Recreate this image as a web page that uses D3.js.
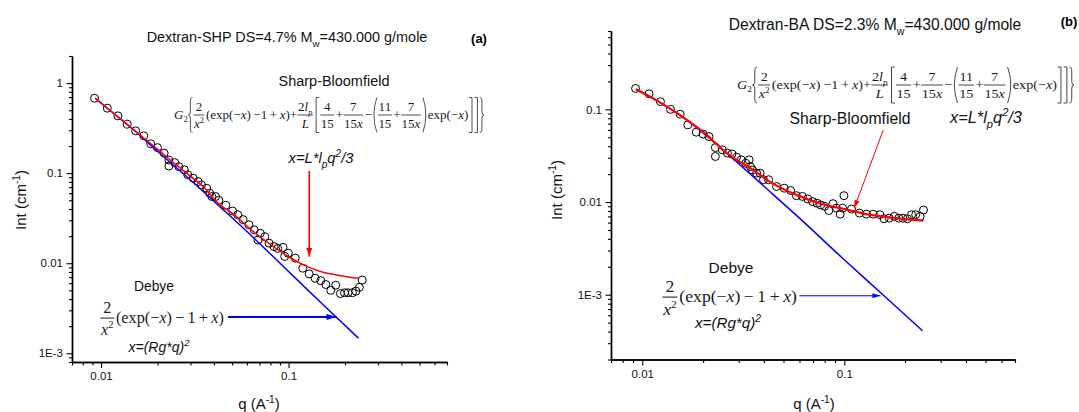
<!DOCTYPE html>
<html><head><meta charset="utf-8">
<script src="https://cdn.jsdelivr.net/npm/d3@7"></script>
<style>
html,body{margin:0;padding:0;background:#fff;}
svg{display:block;}
</style></head><body>
<svg id="c" width="1079" height="412"></svg>
<script>
// ---------------- data ----------------
// Panel (a): Dextran-SHP
const qA = [0.00923,0.0108,0.0123,0.0138,0.0153,0.0169,0.0184,0.0200,0.0217,0.0230,0.0230,0.0247,0.0260,0.0278,0.0290,0.0310,0.0329,0.0343,0.0366,0.0380,0.0390,0.0408,0.0425,0.0463,0.0503,0.0536,0.0572,0.0615,0.0656,0.0687,0.0707,0.0747,0.0787,0.0837,0.0875,0.0934,0.0954,0.0995,0.1086,0.1191,0.1288,0.1386,0.1485,0.158,0.168,0.1786,0.189,0.1989,0.2077,0.219,0.2286,0.2386,0.247];
const intA = [0.68,0.527,0.433,0.35,0.295,0.26,0.212,0.192,0.167,0.14,0.12,0.131,0.118,0.109,0.096,0.088,0.0806,0.074,0.068,0.06,0.055,0.055,0.05,0.044,0.038,0.0345,0.0305,0.0267,0.0235,0.0181,0.0215,0.0197,0.0167,0.0153,0.0146,0.015,0.0119,0.0129,0.0114,0.0088,0.0076,0.0068,0.0064,0.0058,0.005,0.0057,0.0046,0.0047,0.0047,0.0047,0.0049,0.0054,0.0065];
const sbQA = [0.0093,0.012,0.015,0.02,0.025,0.03,0.035,0.043,0.05,0.065,0.08,0.1,0.12,0.148,0.18,0.236];
const sbIA = [0.68,0.44,0.30,0.185,0.125,0.092,0.071,0.0445,0.036,0.0224,0.0162,0.0118,0.0096,0.0081,0.0074,0.0068];
const debQA = [0.0093,0.012,0.015,0.02,0.03,0.043,0.06,0.1,0.15,0.236];
const debIA = [0.68,0.44,0.30,0.175,0.084,0.0425,0.0225,0.0081,0.0036,0.00147];

// Panel (b): Dextran-BA
const qB = [0.00926,0.0108,0.0123,0.0138,0.0154,0.0168,0.0185,0.0200,0.0214,0.0230,0.0230,0.0249,0.0264,0.0278,0.0293,0.0309,0.0325,0.0338,0.0343,0.0351,0.0368,0.0383,0.0398,0.0422,0.0462,0.0504,0.0542,0.0579,0.0620,0.0659,0.0697,0.0733,0.0764,0.0799,0.0838,0.0879,0.0914,0.0954,0.0981,0.0996,0.1085,0.1188,0.1287,0.1391,0.150,0.1574,0.1668,0.1768,0.1862,0.1951,0.2054,0.2153,0.2257,0.2373,0.2467];
const intB = [0.168,0.147,0.121,0.100,0.0886,0.068,0.0567,0.054,0.0508,0.0387,0.031,0.0366,0.0337,0.033,0.0305,0.0285,0.0262,0.0285,0.0241,0.0222,0.0205,0.0205,0.0174,0.0174,0.0147,0.0141,0.0133,0.0117,0.0115,0.0108,0.0101,0.0097,0.0093,0.009,0.0081,0.0096,0.0086,0.0074,0.0086,0.0117,0.0084,0.0076,0.0074,0.0074,0.0073,0.0066,0.0067,0.007,0.0067,0.0067,0.0066,0.0073,0.0073,0.007,0.0082];
const sbQB = [0.0093,0.012,0.0153,0.02,0.027,0.035,0.0427,0.055,0.0753,0.1,0.133,0.18,0.247];
const sbIB = [0.165,0.122,0.087,0.057,0.032,0.0225,0.0166,0.0125,0.0097,0.0084,0.0073,0.0067,0.0063];
const debQB = [0.0093,0.0153,0.0241,0.03,0.04,0.06,0.1,0.15,0.244];
const debIB = [0.165,0.087,0.0396,0.0259,0.0148,0.0067,0.00238,0.00107,0.000409];

// tick labels
const xTickVals = [0.01, 0.1];
const xTickLabels = ["0.01", "0.1"];
const yTickValsA = [0.001, 0.01, 0.1, 1];
const yTickLabelsA = ["1E-3", "0.01", "0.1", "1"];
const yTickValsB = [0.001, 0.01, 0.1];
const yTickLabelsB = ["1E-3", "0.01", "0.1"];

// texts
const titleA = ["Dextran-SHP DS=4.7% M", "w", "=430.000 g/mole"];
const titleB = ["Dextran-BA DS=2.3% M", "w", "=430.000 g/mole"];

// ---------------- drawing ----------------
const SANS = '"Liberation Sans", Arial, Helvetica, sans-serif';
const SERIF = '"Liberation Serif", "Times New Roman", Times, serif';
const svg = d3.select('#c');

function minorTicks(dom) {
  const out = [];
  const lo = Math.floor(Math.log10(dom[0])), hi = Math.ceil(Math.log10(dom[1]));
  for (let e = lo; e <= hi; e++) for (let m = 2; m <= 9; m++) {
    const v = +(m * Math.pow(10, e)).toPrecision(4);
    if (v >= dom[0] * 0.999 && v <= dom[1] * 1.001) out.push(v);
  }
  return out;
}

function drawAxes(g, x, y, yVals, yLabels) {
  const y0 = y.range()[0], x0 = x.range()[0];
  const style = sel => {
    sel.selectAll('.domain').attr('stroke', '#000').attr('stroke-width', 1.4);
    sel.selectAll('.tick line').attr('stroke', '#000').attr('stroke-width', 1.1);
    sel.selectAll('text').attr('font-family', SANS).attr('font-size', 11.5).attr('fill', '#111');
  };
  g.append('g').attr('transform', `translate(0,${y0})`)
    .call(d3.axisBottom(x).tickValues(minorTicks(x.domain())).tickSize(3.5).tickSizeOuter(0).tickFormat(''))
    .call(style);
  g.append('g').attr('transform', `translate(0,${y0})`)
    .call(d3.axisBottom(x).tickValues(xTickVals).tickSize(6).tickPadding(4).tickSizeOuter(0)
      .tickFormat((d, i) => xTickLabels[i]))
    .call(style);
  g.append('g').attr('transform', `translate(${x0},0)`)
    .call(d3.axisLeft(y).tickValues(minorTicks(y.domain())).tickSize(3).tickSizeOuter(0).tickFormat(''))
    .call(style);
  g.append('g').attr('transform', `translate(${x0},0)`)
    .call(d3.axisLeft(y).tickValues(yVals).tickSize(5.5).tickPadding(3.5).tickSizeOuter(0)
      .tickFormat((d, i) => yLabels[i]))
    .call(style);
}

function supText(g, parts, x, y, size, opts = {}) {
  const t = g.append('text').attr('x', x).attr('y', y)
    .attr('font-family', SANS).attr('font-size', size)
    .attr('text-anchor', opts.anchor || 'start')
    .attr('font-style', opts.italic ? 'italic' : null)
    .attr('font-weight', opts.bold ? 'bold' : null)
    .attr('fill', opts.fill || '#111')
    .style('white-space', 'pre');
  if (opts.transform) t.attr('transform', opts.transform);
  const build = sz => {
    t.selectAll('tspan').remove();
    t.attr('font-size', sz);
    let shift = 0;
    parts.forEach(p => {
      const ts = t.append('tspan').text(p.s);
      let target = 0;
      if (p.sup) { target = -0.42 * sz; ts.attr('font-size', sz * 0.68); }
      if (p.sub) { target = 0.32 * sz; ts.attr('font-size', sz * 0.68); }
      if (target !== shift) { ts.attr('dy', target - shift); shift = target; }
    });
  };
  build(size);
  if (opts.fitW) {
    const w = t.node().getComputedTextLength();
    build(size * opts.fitW / w);
  }
  return t;
}

// ---- math formula renderer (Times) ----
function runsText(g, runs, x, y, fs) {
  const t = g.append('text').attr('x', x).attr('y', y)
    .attr('font-family', SERIF).attr('font-size', fs).attr('fill', '#1a1a1a')
    .style('white-space', 'pre');
  let shift = 0;
  runs.forEach(r => {
    const ts = t.append('tspan').text(r.s);
    if (r.it) ts.attr('font-style', 'italic');
    let target = 0;
    if (r.sup) { target = -0.4 * fs; ts.attr('font-size', fs * 0.65); }
    if (r.sub) { target = 0.28 * fs; ts.attr('font-size', fs * 0.65); }
    if (target !== shift) { ts.attr('dy', target - shift); shift = target; }
  });
  return t;
}
function delimPath(c, x, top, bot, w) {
  const mid = (top + bot) / 2, h = bot - top;
  if (c === '[') return `M${x + w},${top}H${x + 1}V${bot}H${x + w}`;
  if (c === ']') return `M${x},${top}H${x + w - 1}V${bot}H${x}`;
  if (c === '(') return `M${x + w},${top}Q${x - w * 0.4},${mid} ${x + w},${bot}`;
  if (c === ')') return `M${x},${top}Q${x + w * 1.4},${mid} ${x},${bot}`;
  if (c === '{') {
    const m = x + w * 0.5;
    return `M${x + w},${top}Q${m},${top} ${m},${top + h * 0.12}V${mid - h * 0.1}Q${m},${mid} ${x},${mid}` +
      `Q${m},${mid} ${m},${mid + h * 0.1}V${bot - h * 0.12}Q${m},${bot} ${x + w},${bot}`;
  }
  if (c === '}') {
    const m = x + w * 0.5;
    return `M${x},${top}Q${m},${top} ${m},${top + h * 0.12}V${mid - h * 0.1}Q${m},${mid} ${x + w},${mid}` +
      `Q${m},${mid} ${m},${mid + h * 0.1}V${bot - h * 0.12}Q${m},${bot} ${x},${bot}`;
  }
}
function drawMath(parent, items, fs, fit) {
  const g = parent.append('g');
  const inner = g.append('g');
  const ax = -0.3 * fs;
  let x = 0;
  items.forEach(it => {
    if (it.t === 'r') {
      const t = runsText(inner, it.runs, x, 0, fs);
      x += t.node().getComputedTextLength();
    } else if (it.t === 'f') {
      const tn = runsText(inner, it.n, 0, ax - 0.3 * fs, fs);
      const td = runsText(inner, it.d, 0, ax + 1.0 * fs, fs);
      const wn = tn.node().getComputedTextLength(), wd = td.node().getComputedTextLength();
      const w = Math.max(wn, wd) + 0.14 * fs;
      tn.attr('x', x + (w - wn) / 2);
      td.attr('x', x + (w - wd) / 2);
      inner.append('line').attr('x1', x + 0.03 * fs).attr('x2', x + w - 0.03 * fs)
        .attr('y1', ax).attr('y2', ax).attr('stroke', '#1a1a1a').attr('stroke-width', 0.06 * fs);
      x += w + 0.08 * fs;
    } else if (it.t === 'd') {
      const w = 0.32 * fs, gap = 0.05 * fs;
      inner.append('path').attr('d', delimPath(it.c, x + gap, ax - 1.4 * fs, ax + 1.4 * fs, w))
        .attr('fill', 'none').attr('stroke', '#1a1a1a').attr('stroke-width', 0.06 * fs);
      x += w + 2 * gap;
    }
  });
  const bb = inner.node().getBBox();
  const sx = fit.w / bb.width, sy = fit.h / bb.height;
  inner.attr('transform', `translate(${fit.x - bb.x * sx},${fit.cy - (bb.y + bb.height / 2) * sy}) scale(${sx},${sy})`);
  return g;
}
const R = s => ({ s }), I = s => ({ s, it: true });
const TH = '\u2009', MINUS = '\u2212';
const sbFormula = [
  { t: 'r', runs: [I('G'), { s: '2', sub: true }] },
  { t: 'd', c: '{' },
  { t: 'f', n: [R('2')], d: [I('x'), { s: '2', sup: true }] },
  { t: 'r', runs: [R('(exp(' + MINUS), I('x'), R(')' + TH + MINUS + '1' + TH + '+' + TH), I('x'), R(')')] },
  { t: 'r', runs: [R('+')] },
  { t: 'f', n: [R('2'), I('l'), { s: 'p', it: true, sub: true }], d: [I('L')] },
  { t: 'd', c: '[' },
  { t: 'f', n: [R('4')], d: [R('15')] },
  { t: 'r', runs: [R('+')] },
  { t: 'f', n: [R('7')], d: [R('15'), I('x')] },
  { t: 'r', runs: [R(MINUS)] },
  { t: 'd', c: '(' },
  { t: 'f', n: [R('11')], d: [R('15')] },
  { t: 'r', runs: [R('+')] },
  { t: 'f', n: [R('7')], d: [R('15'), I('x')] },
  { t: 'd', c: ')' },
  { t: 'r', runs: [R('exp(' + MINUS), I('x'), R(')')] },
  { t: 'd', c: ']' },
  { t: 'd', c: ']' },
  { t: 'd', c: '}' }
];
const debyeFormula = [
  { t: 'f', n: [R('2')], d: [I('x'), { s: '2', sup: true }] },
  { t: 'r', runs: [R('(exp(' + MINUS), I('x'), R(')' + TH + MINUS + TH + '1' + TH + '+' + TH), I('x'), R(')')] }
];

// arrow markers
const defs = svg.append('defs');
function marker(id, color, w, h) {
  defs.append('marker').attr('id', id).attr('viewBox', `0 0 ${w} ${h}`)
    .attr('refX', w).attr('refY', h / 2).attr('markerWidth', w).attr('markerHeight', h)
    .attr('markerUnits', 'userSpaceOnUse').attr('orient', 'auto')
    .append('path').attr('d', `M0,0L${w},${h / 2}L0,${h}Z`).attr('fill', color);
}
marker('arR', '#ff0000', 9, 6);
marker('arB', '#0000ff', 10, 6);
marker('arRs', '#ff0000', 8, 5);
marker('arBs', '#0000ff', 8, 5);

function panel(cfg) {
  const g = svg.append('g');
  const x = d3.scaleLog().domain([0.007, 0.7]).range(cfg.xr);
  const y = d3.scaleLog().domain(cfg.yd).range(cfg.yr);
  drawAxes(g, x, y, cfg.yVals, cfg.yLabels);

  const line = d3.line().x(d => x(d[0])).y(d => y(d[1])).curve(d3.curveMonotoneX);
  g.append('g').selectAll('circle').data(d3.zip(cfg.q, cfg.I)).join('circle')
    .attr('cx', d => x(d[0])).attr('cy', d => y(d[1])).attr('r', 4)
    .attr('fill', 'none').attr('stroke', '#000').attr('stroke-width', 1);
  g.append('path').attr('d', line(d3.zip(cfg.debQ, cfg.debI)))
    .attr('fill', 'none').attr('stroke', '#0000ff').attr('stroke-width', 1.5);
  g.append('path').attr('d', line(d3.zip(cfg.sbQ, cfg.sbI)))
    .attr('fill', 'none').attr('stroke', '#ff0000').attr('stroke-width', cfg.redW);

  const a = cfg.arrows;
  g.append('line').attr('x1', x(a.red[0][0])).attr('y1', y(a.red[0][1]))
    .attr('x2', x(a.red[1][0])).attr('y2', y(a.red[1][1]))
    .attr('stroke', '#ff0000').attr('stroke-width', a.redW).attr('marker-end', `url(#${a.redM})`);
  g.append('line').attr('x1', x(a.blue[0][0])).attr('y1', y(a.blue[0][1]))
    .attr('x2', x(a.blue[1][0])).attr('y2', y(a.blue[1][1]))
    .attr('stroke', '#0000ff').attr('stroke-width', a.blueW).attr('marker-end', `url(#${a.blueM})`);

  const T = cfg.title;
  supText(g, [{ s: T.text[0] }, { s: T.text[1], sub: true }, { s: T.text[2] }], T.x, T.y, 13, { anchor: 'middle', fitW: T.w });
  supText(g, [{ s: T.tag }], T.tx, T.ty, 13, { anchor: 'middle', bold: true, fill: '#000' });
  supText(g, [{ s: 'Int (cm' }, { s: '-1', sup: true }, { s: ')' }], 0, 0, 15,
    { anchor: 'middle', transform: `translate(${cfg.yt[0]},${cfg.yt[1]}) rotate(-90)` });
  supText(g, [{ s: 'q (A' }, { s: '-1', sup: true }, { s: ')' }], cfg.xt[0], cfg.xt[1], 15, { anchor: 'middle' });

  const n = cfg.notes;
  supText(g, [{ s: 'Sharp-Bloomfield' }], n.sb[0], n.sb[1], 14.5, { anchor: 'middle', fitW: n.sb[2] });
  supText(g, [{ s: 'x=L*l' }, { s: 'p', sub: true }, { s: 'q' }, { s: '2', sup: true }, { s: '/3' }], n.xl[0], n.xl[1], 14,
    { anchor: 'middle', italic: true, fitW: n.xl[2] });
  supText(g, [{ s: 'Debye' }], n.db[0], n.db[1], 14.5, { anchor: 'middle', fitW: n.db[2] });
  supText(g, [{ s: 'x=(Rg*q)' }, { s: '2', sup: true }], n.rg[0], n.rg[1], 14, { anchor: 'middle', italic: true, fitW: n.rg[2] });
  drawMath(g, sbFormula, 12, n.sbf);
  drawMath(g, debyeFormula, 15.5, n.dbf);
}

panel({
  xr: [72, 447], yd: [8e-4, 2], yr: [362, 56],
  yVals: yTickValsA, yLabels: yTickLabelsA,
  q: qA, I: intA, sbQ: sbQA, sbI: sbIA, debQ: debQA, debI: debIA, redW: 1.5,
  arrows: { red: [[0.129, 0.106], [0.129, 0.0118]], redW: 1.6, redM: 'arR',
            blue: [[0.0475, 0.00253], [0.18, 0.00253]], blueW: 2, blueM: 'arB' },
  title: { text: titleA, x: 287, y: 42, w: 281, tag: '(a)', tx: 479, ty: 43 },
  yt: [26, 200], xt: [259, 409],
  notes: { sb: [334, 86, 111], xl: [321, 163, 65], db: [154, 291, 40], rg: [159, 352, 61],
           sbf: { x: 174, w: 310, cy: 115, h: 35 }, dbf: { x: 100, w: 124, cy: 318, h: 40 } }
});
panel({
  xr: [611, 1015], yd: [2e-4, 0.7], yr: [359.5, 31],
  yVals: yTickValsB, yLabels: yTickLabelsB,
  q: qB, I: intB, sbQ: sbQB, sbI: sbIB, debQ: debQB, debI: debIB, redW: 2.2,
  arrows: { red: [[0.156, 0.06], [0.112, 0.0086]], redW: 1, redM: 'arRs',
            blue: [[0.06, 0.000975], [0.151, 0.000975]], blueW: 1.1, blueM: 'arBs' },
  title: { text: titleB, x: 875, y: 30, w: 293, tag: '(b)', tx: 1069, ty: 26 },
  yt: [562, 190], xt: [814, 409],
  notes: { sb: [850, 124, 121], xl: [986, 123, 72], db: [731, 273, 45], rg: [728, 328, 66],
           sbf: { x: 737, w: 337, cy: 85, h: 36 }, dbf: { x: 662, w: 135, cy: 297, h: 42 } }
});
</script>
</body></html>
